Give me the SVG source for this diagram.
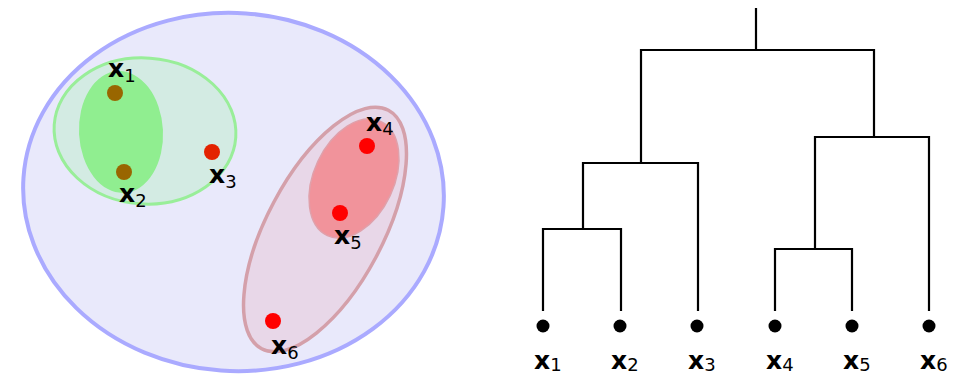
<svg xmlns="http://www.w3.org/2000/svg" width="962" height="376" viewBox="0 0 962 376">
<style>
.lbl{font-family:"DejaVu Sans","Liberation Sans",sans-serif;font-size:25px;font-weight:bold;fill:#000}
.sub{font-size:18px;font-weight:normal}
.br{fill:none;stroke:#000;stroke-width:2.2;stroke-linecap:square}
.pt{fill:#ff0000}
.brown{fill:#996600}
.dot{fill:#000}
</style>
<rect width="962" height="376" fill="#fff"/>
<g id="set-all">
<ellipse cx="233.5" cy="192" rx="210.5" ry="179" transform="rotate(4 233.5 192)" fill="#e9e9fb" stroke="#aaaaff" stroke-width="4"/>
</g>
<g id="set-123">
<ellipse cx="145" cy="131" rx="91" ry="73" transform="rotate(4 145 131)" fill="#d3ebe3" stroke="#99ee99" stroke-width="3"/>
</g>
<g id="set-12">
<ellipse cx="121" cy="132" rx="42" ry="61" transform="rotate(-3 121 132)" fill="#90ee90"/>
</g>
<g id="set-456">
<ellipse cx="325" cy="229.5" rx="58" ry="135" transform="rotate(28 325 229.5)" fill="#e8d7e8" stroke="#d4a0aa" stroke-width="3.5"/>
</g>
<g id="set-45">
<ellipse cx="354" cy="178.5" rx="40" ry="63" transform="rotate(25 354 178.5)" fill="#f1939b" stroke="#e0a0aa" stroke-width="1.5"/>
</g>
<g id="p1"><circle class="brown" cx="115" cy="93" r="8"/><text class="lbl" x="108" y="77">x<tspan class="sub" dy="5">1</tspan></text></g>
<g id="p2"><circle class="brown" cx="124" cy="172" r="8"/><text class="lbl" x="119" y="202">x<tspan class="sub" dy="5">2</tspan></text></g>
<g id="p3"><circle cx="212" cy="152" r="8" fill="#e32200"/><text class="lbl" x="209" y="183">x<tspan class="sub" dy="5">3</tspan></text></g>
<g id="p4"><circle class="pt" cx="367" cy="146" r="8"/><text class="lbl" x="366" y="131">x<tspan class="sub" dy="4">4</tspan></text></g>
<g id="p5"><circle class="pt" cx="340" cy="213" r="8"/><text class="lbl" x="334" y="244">x<tspan class="sub" dy="5">5</tspan></text></g>
<g id="p6"><circle class="pt" cx="273" cy="321" r="8"/><text class="lbl" x="271" y="354">x<tspan class="sub" dy="5">6</tspan></text></g>
<g id="connectors">
<path class="br" d="M756 9V50M641 163V50H874V137"/>
<path class="br" d="M583 229V163H698V310"/>
<path class="br" d="M543 310V229H621V310"/>
<path class="br" d="M815 249V137H929V310"/>
<path class="br" d="M775 310V249H852V310"/>
</g>
<g id="leaf1"><circle class="dot" cx="543" cy="326" r="6.5"/><text class="lbl" x="534" y="369">x<tspan class="sub" dy="2">1</tspan></text></g>
<g id="leaf2"><circle class="dot" cx="620" cy="326" r="6.5"/><text class="lbl" x="611" y="369">x<tspan class="sub" dy="2">2</tspan></text></g>
<g id="leaf3"><circle class="dot" cx="697" cy="326" r="6.5"/><text class="lbl" x="688" y="369">x<tspan class="sub" dy="2">3</tspan></text></g>
<g id="leaf4"><circle class="dot" cx="775" cy="326" r="6.5"/><text class="lbl" x="766" y="369">x<tspan class="sub" dy="2">4</tspan></text></g>
<g id="leaf5"><circle class="dot" cx="852" cy="326" r="6.5"/><text class="lbl" x="843" y="369">x<tspan class="sub" dy="2">5</tspan></text></g>
<g id="leaf6"><circle class="dot" cx="929" cy="326" r="6.5"/><text class="lbl" x="920" y="369">x<tspan class="sub" dy="2">6</tspan></text></g>
</svg>
